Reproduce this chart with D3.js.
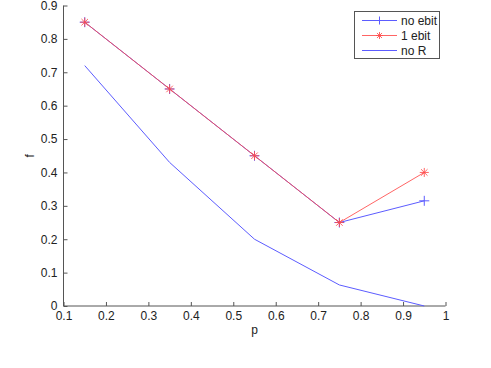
<!DOCTYPE html>
<html>
<head>
<meta charset="utf-8">
<script src="https://cdn.jsdelivr.net/npm/d3@7"></script>
<style>
  body { margin: 0; padding: 0; background: #fff; }
  svg { display: block; font-family: "Liberation Sans", Arial, sans-serif; }
</style>
</head>
<body>
<div id="main"></div>
<script>
const pValues = [0.15, 0.35, 0.55, 0.75, 0.95];
const noEbit = [0.85, 0.65, 0.45, 0.25, 0.315];
const oneEbit = [0.85, 0.65, 0.45, 0.25, 0.40];
const noR = [0.72, 0.43, 0.20, 0.063, 0.0];
const xTicks = [0.1, 0.2, 0.3, 0.4, 0.5, 0.6, 0.7, 0.8, 0.9, 1];
const yTicks = [0, 0.1, 0.2, 0.3, 0.4, 0.5, 0.6, 0.7, 0.8, 0.9];
const seriesNames = ['no ebit', '1 ebit', 'no R'];

const WIDTH = 491, HEIGHT = 368;
const LEFT = 63.5, RIGHT = 445.5, TOP = 5.5, BOTTOM = 306;
const AXISCOLOR = '#555';
const BLUE = '#5c5cff', RED = '#ff4a4a';

const scaleX = d3.scaleLinear().domain([0.1, 1]).range([LEFT, RIGHT]);
const scaleY = d3.scaleLinear().domain([0, 0.9]).range([BOTTOM, TOP]);

const svg = d3.select('#main').append('svg').attr('width', WIDTH).attr('height', HEIGHT);

const axisX = d3.axisBottom(scaleX).tickValues(xTicks).tickSize(-4).tickPadding(7)
    .tickFormat((d) => d === 1 ? '1' : d3.format('.1f')(d));
const axisY = d3.axisLeft(scaleY).tickValues(yTicks).tickSize(-4).tickPadding(6)
    .tickFormat((d) => d === 0 ? '0' : d3.format('.1f')(d));

const gx = svg.append('g').attr('transform', `translate(0, ${BOTTOM})`).call(axisX);
const gy = svg.append('g').attr('transform', `translate(${LEFT}, 0)`).call(axisY);
[gx, gy].forEach((g) => {
    g.select('.domain').attr('stroke', AXISCOLOR).attr('d', null);
    g.selectAll('.tick line').attr('stroke', AXISCOLOR);
    g.selectAll('.tick text').attr('fill', '#222').attr('font-size', 12)
        .attr('font-family', '"Liberation Sans", Arial, sans-serif');
});
gx.select('.domain').attr('d', `M${LEFT},0H${RIGHT}`);
gy.select('.domain').attr('d', `M0,${TOP}V${BOTTOM}`);
gx.selectAll('.tick text').attr('dy', '0.6em');

svg.append('text').attr('x', scaleX(0.55)).attr('y', 334).attr('text-anchor', 'middle')
    .attr('font-size', 12).attr('fill', '#222').text('p');
svg.append('text').attr('transform', `translate(34, ${scaleY(0.45)}) rotate(-90)`)
    .attr('text-anchor', 'middle').attr('font-size', 12).attr('fill', '#222').text('f');

const line = d3.line().x((d) => scaleX(d[0])).y((d) => scaleY(d[1]));
const pairs = (ys) => pValues.map((p, i) => [p, ys[i]]);

const plot = svg.append('g');
plot.append('path').datum(pairs(noEbit)).attr('d', line)
    .attr('fill', 'none').attr('stroke', BLUE).attr('stroke-width', 1);
plot.append('path').datum(pairs(noR)).attr('d', line)
    .attr('fill', 'none').attr('stroke', BLUE).attr('stroke-width', 1);

const plus = (g, x, y, s, color) => {
    g.append('path').attr('d', `M${x - s},${y}H${x + s}M${x},${y - s}V${y + s}`)
        .attr('stroke', color).attr('stroke-width', 1).attr('fill', 'none');
};
const star = (g, x, y, s, color) => {
    const d = s * 0.72;
    g.append('path')
        .attr('d', `M${x - s},${y}H${x + s}M${x},${y - s}V${y + s}M${x - d},${y - d}L${x + d},${y + d}M${x - d},${y + d}L${x + d},${y - d}`)
        .attr('stroke', color).attr('stroke-width', 1).attr('fill', 'none').attr('opacity', 0.85);
};

pairs(noEbit).forEach(([p, v]) => plus(plot, scaleX(p), scaleY(v), 5, BLUE));

plot.append('path').datum(pairs(oneEbit)).attr('d', line)
    .attr('fill', 'none').attr('stroke', RED).attr('stroke-width', 1).attr('opacity', 0.85);
pairs(oneEbit).forEach(([p, v]) => star(plot, scaleX(p), scaleY(v), 4.5, RED));

// legend
const legend = svg.append('g');
legend.append('rect').attr('x', 354.5).attr('y', 11.5).attr('width', 85).attr('height', 47)
    .attr('fill', '#fff').attr('stroke', AXISCOLOR).attr('stroke-width', 1);
const legendColors = [BLUE, RED, BLUE];
seriesNames.forEach((name, i) => {
    const y = 20.5 + i * 15;
    legend.append('line').attr('x1', 362).attr('x2', 397).attr('y1', y).attr('y2', y)
        .attr('stroke', legendColors[i]).attr('stroke-width', 1).attr('opacity', i === 1 ? 0.85 : 1);
    if (i === 0) plus(legend, 379.5, y, 4, BLUE);
    if (i === 1) star(legend, 379.5, y, 3.5, RED);
    legend.append('text').attr('x', 401).attr('y', y).attr('dy', '0.35em')
        .attr('font-size', 12).attr('fill', '#222').text(name);
});
</script>
</body>
</html>
